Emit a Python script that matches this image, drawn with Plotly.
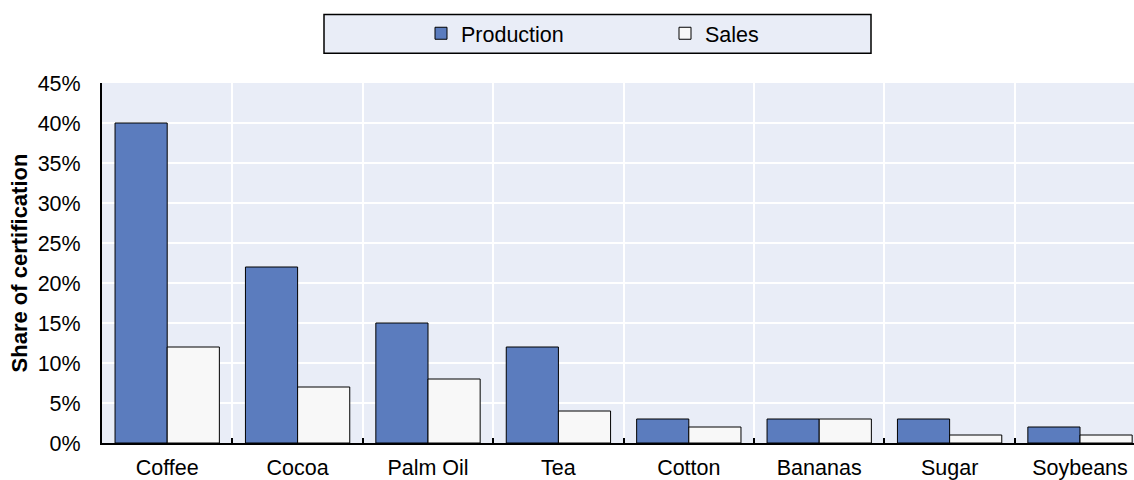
import plotly.graph_objects as go

categories = ["Coffee", "Cocoa", "Palm Oil", "Tea", "Cotton", "Bananas", "Sugar", "Soybeans"]
production = [40, 22, 15, 12, 3, 3, 3, 2]
sales = [12, 7, 8, 4, 2, 3, 1, 1]
y_ticks = [0, 5, 10, 15, 20, 25, 30, 35, 40, 45]

FONT = "Liberation Sans, Arial, sans-serif"
BG = "#E9EDF7"
FS = 21.5

fig = go.Figure()
fig.add_trace(go.Bar(
    name="Production", x=categories, y=production,
    marker=dict(color="#5B7CBE", line=dict(color="#000000", width=1)),
))
fig.add_trace(go.Bar(
    name="Sales", x=categories, y=sales,
    marker=dict(color="#F8F8F8", line=dict(color="#000000", width=1)),
))

L, T, W, H = 102, 83, 1032, 362

def px_x(v):
    return (v - L) / W

def px_y(v):
    return (T + H - v) / H

fig.update_layout(
    width=1134, height=480,
    margin=dict(l=L, r=1134 - L - W, t=T, b=480 - T - H),
    paper_bgcolor="white",
    plot_bgcolor=BG,
    barmode="group", bargap=0.2, bargroupgap=0,
    font=dict(family=FONT, size=FS, color="#000000"),
    showlegend=True,
    legend=dict(
        orientation="h", x=px_x(421), y=px_y(33), xanchor="left", yanchor="middle",
        bgcolor="rgba(0,0,0,0)", entrywidth=199, entrywidthmode="pixels",
        font=dict(family=FONT, size=FS), itemwidth=30, tracegroupgap=0,
    ),
    shapes=[dict(
        type="rect", xref="paper", yref="paper",
        x0=px_x(324), x1=px_x(871), y0=px_y(53), y1=px_y(14),
        fillcolor=BG, line=dict(color="#000000", width=1.5), layer="below",
    )],
)

fig.update_xaxes(
    type="category", range=[-0.5, 7.414],
    tickson="boundaries", ticks="inside", ticklen=5, tickcolor="#000000", tickwidth=1.5,
    showgrid=True, gridcolor="white", gridwidth=2,
    showline=True, linecolor="#000000", linewidth=2,
    tickfont=dict(family=FONT, size=FS), ticklabelstandoff=4,
)
fig.update_yaxes(
    range=[0, 45], tickvals=y_ticks, ticktext=[f"{v}%" for v in y_ticks],
    showgrid=True, gridcolor="white", gridwidth=2,
    showline=True, linecolor="#000000", linewidth=2,
    ticks="", zeroline=False,
    tickfont=dict(family=FONT, size=FS), ticklabelstandoff=15,
    title=dict(text="<b>Share of certification</b>", font=dict(family=FONT, size=22), standoff=4),
)

fig.write_html("out.html")
